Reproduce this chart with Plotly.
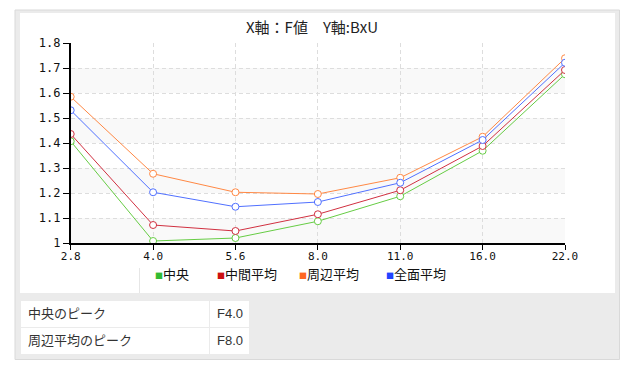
import plotly.graph_objects as go

# page body adds an 8px margin, so the figure is 8px smaller and all pixel
# positions below are shifted by that offset
OFF = 8
W, H = 634 - OFF, 371 - OFF

# ---- data ----
f_values = ["2.8", "4.0", "5.6", "8.0", "11.0", "16.0", "22.0"]
series_names = ["中央", "中間平均", "周辺平均", "全面平均"]
center = [1.407, 1.008, 1.020, 1.087, 1.187, 1.369, 1.675]
middle = [1.436, 1.072, 1.048, 1.115, 1.211, 1.388, 1.692]
edge = [1.585, 1.277, 1.203, 1.196, 1.261, 1.425, 1.739]
whole = [1.531, 1.203, 1.145, 1.164, 1.241, 1.412, 1.721]
y_tickvals = [1.0, 1.1, 1.2, 1.3, 1.4, 1.5, 1.6, 1.7, 1.8]
y_ticktext = ["1", "1.1", "1.2", "1.3", "1.4", "1.5", "1.6", "1.7", "1.8"]
table_labels = ["中央のピーク", "周辺平均のピーク"]
table_values = ["F4.0", "F8.0"]
title_text = "X軸：F値　Y軸:BxU"

line_colors = ["#66cc44", "#d03040", "#ff8844", "#5070ff"]
legend_colors = ["#33bb33", "#cc1111", "#ff6622", "#2244ff"]
series = [center, middle, edge, whole]
legend_ids = ["legend", "legend2", "legend3", "legend4"]
legend_left_px = [155, 217, 299, 386]


def px_x(p):
    return (p - OFF) / W


def px_y(p):
    return 1 - (p - OFF) / H


fig = go.Figure()

for name, vals, lc in zip(series_names, series, line_colors):
    fig.add_trace(go.Scatter(
        x=f_values, y=vals, mode="lines+markers", name=name, showlegend=False,
        line=dict(color=lc, width=1),
        marker=dict(symbol="circle", size=7, color="white", line=dict(color=lc, width=1)),
    ))

for name, c, lid in zip(series_names, legend_colors, legend_ids):
    fig.add_trace(go.Scatter(
        x=[None], y=[None], mode="markers", legend=lid,
        name=f'<span style="font-size:8px;color:{c}">■</span>{name}',
        marker=dict(symbol="square", size=1, color="rgba(0,0,0,0)"),
    ))

fig.add_trace(go.Table(
    domain=dict(x=[px_x(20), px_x(249)], y=[px_y(357), px_y(300)]),
    columnwidth=[189, 40],
    header=dict(values=[table_labels[0], table_values[0]], height=27, align="left",
                fill_color="white", line=dict(color="#ebebeb", width=1),
                font=dict(family="Liberation Sans, Noto Sans CJK JP", size=13, color="#333")),
    cells=dict(values=[[table_labels[1]], [table_values[1]]], height=27, align="left",
               fill_color="white", line=dict(color="#ebebeb", width=1),
               font=dict(family="Liberation Sans, Noto Sans CJK JP", size=13, color="#333")),
))

shapes = [
    # outer gray panel
    dict(type="rect", xref="paper", yref="paper", x0=px_x(15), x1=px_x(619.5), y0=px_y(359.5), y1=px_y(10),
         fillcolor="#ebebeb", line=dict(color="#d9d9d9", width=1), layer="below"),
    # white chart card
    dict(type="rect", xref="paper", yref="paper", x0=px_x(20), x1=px_x(615), y0=px_y(293), y1=px_y(13),
         fillcolor="white", line=dict(width=0), layer="below"),
    # small divider under the axis
    dict(type="line", xref="paper", yref="paper", x0=px_x(139.5), x1=px_x(139.5), y0=px_y(293), y1=px_y(268),
         line=dict(color="#e6e6e6", width=1), layer="below"),
]
for i in range(0, len(y_tickvals) - 1, 2):
    shapes.append(dict(type="rect", xref="x domain", yref="y", x0=0, x1=1,
                       y0=y_tickvals[i], y1=y_tickvals[i + 1],
                       fillcolor="#f9f9f9", line=dict(width=0), layer="below"))

legend_layouts = {}
for lid, lx in zip(legend_ids, legend_left_px):
    legend_layouts[lid] = dict(
        orientation="h", x=px_x(lx - 40), xanchor="left", y=px_y(259), yanchor="top",
        font=dict(family="Noto Sans CJK JP", size=13, color="#111"),
        itemwidth=30, bgcolor="rgba(0,0,0,0)", borderwidth=0,
    )

fig.update_layout(
    width=W, height=H,
    margin=dict(l=0, r=0, t=0, b=0, autoexpand=False),
    paper_bgcolor="white",
    plot_bgcolor="rgba(0,0,0,0)",
    shapes=shapes,
    title=dict(text=title_text, x=px_x(312), xanchor="center", y=px_y(28), yanchor="middle",
               xref="paper", yref="paper",
               font=dict(family="Noto Sans CJK JP", size=15, color="#222")),
    showlegend=True,
    **legend_layouts,
    xaxis=dict(
        type="category", domain=[px_x(70.7), px_x(565)], range=[0, 6], automargin=False,
        showline=True, linecolor="black", linewidth=1.5,
        ticks="outside", ticklen=5, tickcolor="black", ticklabelstandoff=-3,
        tickfont=dict(family="DejaVu Sans Mono", size=11, color="#111"),
        showgrid=True, gridcolor="#dddddd", griddash="4px,3px", gridwidth=1,
        zeroline=False, fixedrange=True,
    ),
    yaxis=dict(
        domain=[px_y(243), px_y(43)], range=[1.0, 1.8], automargin=False,
        tickvals=y_tickvals, ticktext=y_ticktext,
        showline=True, linecolor="black", linewidth=1.5,
        ticks="outside", ticklen=6, tickcolor="black",
        tickfont=dict(family="DejaVu Sans Mono", size=12, color="#111"),
        showgrid=True, gridcolor="#dddddd", griddash="4px,3px", gridwidth=1,
        zeroline=False, fixedrange=True,
    ),
)

fig.write_html("out.html")
